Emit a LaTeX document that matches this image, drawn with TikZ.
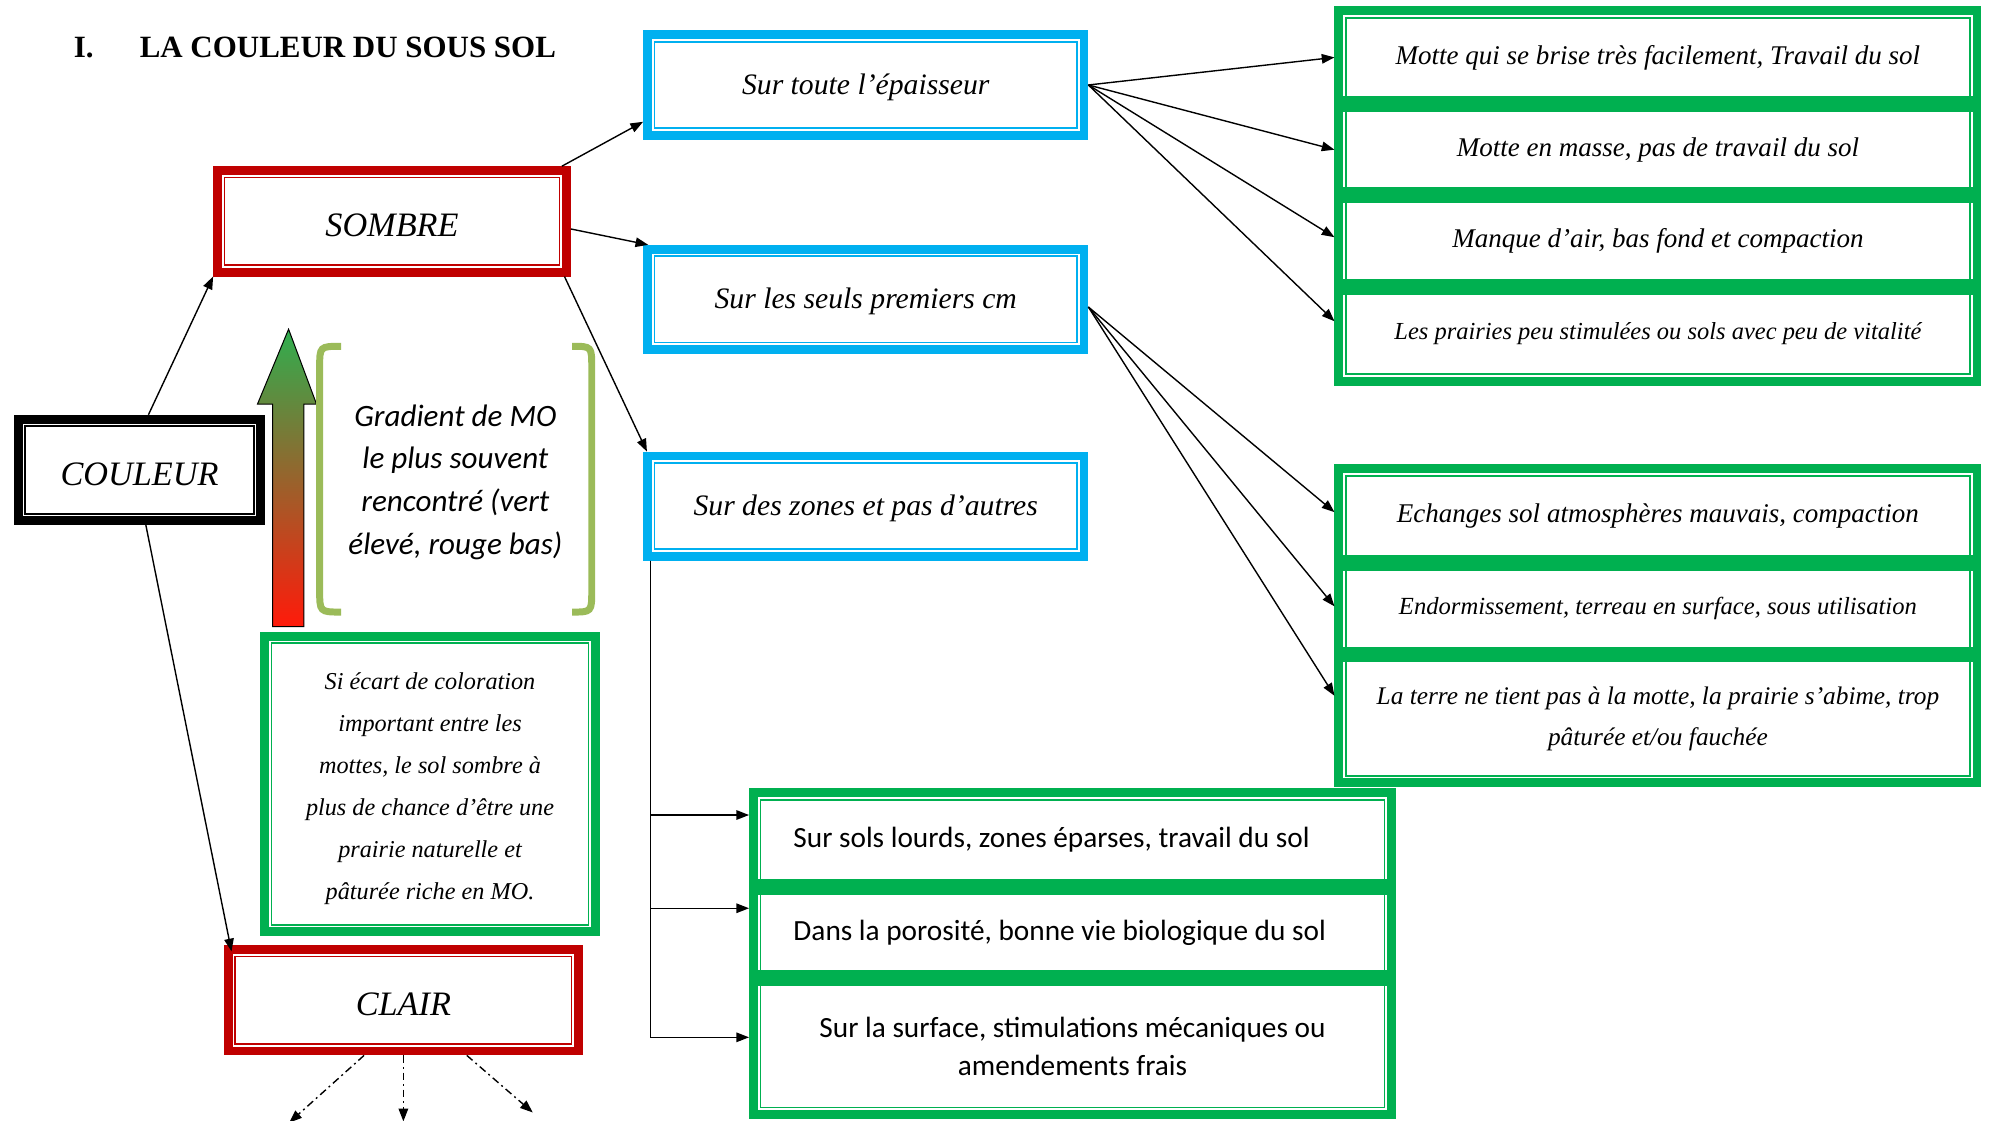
\documentclass[tikz,border=0pt]{standalone}
\usepackage{fontspec}
\setmainfont{Liberation Serif}
\newfontfamily\calibri{Carlito}
\usepackage{tikz}
\usetikzlibrary{arrows.meta,positioning}

\definecolor{bleu}{HTML}{00B0F0}
\definecolor{rouge}{HTML}{C00000}
\definecolor{vert}{HTML}{00B050}
\definecolor{accolade}{HTML}{9BBB59}
\definecolor{haut}{HTML}{2FAE4F}
\definecolor{bas}{HTML}{FF1A0A}

\tikzset{
  cadre/.style={draw=#1, line width=7pt, inner sep=0pt, align=center,
    path picture={\draw[#1, line width=1.4pt]
      ([shift={(5.5pt,-5.5pt)}]path picture bounding box.north west) rectangle
      ([shift={(-5.5pt,5.5pt)}]path picture bounding box.south east);}},
  ligne/.style={cadre=vert, minimum width=503pt, minimum height=#1},
  barre/.style={vert, line width=12.5pt},
  fleche/.style={->, line width=1.1pt},
  tirets/.style={->, line width=1.1pt, dash pattern=on 6pt off 3pt on 1.5pt off 3pt},
  grand/.style={font=\fontsize{27}{32}\selectfont\itshape, text height=24pt, text depth=0pt},
  moyen/.style={font=\fontsize{23.4}{28}\selectfont\itshape, text height=20pt, text depth=5pt},
  texte/.style={font=\fontsize{#1}{32}\selectfont\itshape},
  sans/.style={font=\calibri\fontsize{#1}{30}\selectfont}
}

\begin{document}
\begin{tikzpicture}[x=1pt, y=-1pt, >={Triangle[length=10pt,width=7.5pt]}]
  \useasboundingbox (0,0) rectangle (1568,883);

  \node[anchor=base west, inner sep=0pt, font=\fontsize{24.4}{28}\selectfont\bfseries] (titre) at (58,45)
    {\makebox[52pt][l]{I.}LA COULEUR DU SOUS SOL};

  \node[cadre=black, minimum width=191pt, minimum height=80pt, grand] (couleur) at (110,370.5) {COULEUR};
  \node[cadre=rouge, minimum width=275pt, minimum height=80pt, grand] (sombre) at (309,174.5) {SOMBRE};
  \node[cadre=rouge, minimum width=276pt, minimum height=80pt, grand] (clair) at (318,788.5) {CLAIR};

  \node[cadre=bleu, minimum width=344pt, minimum height=79pt, moyen] (b1) at (682.5,67) {Sur toute l’épaisseur};
  \node[cadre=bleu, minimum width=344pt, minimum height=79pt, moyen] (b2) at (682.5,236) {Sur les seuls premiers cm};
  \node[cadre=bleu, minimum width=344pt, minimum height=79pt, moyen] (b3) at (682.5,399) {Sur des zones et pas d’autres};

  \node[cadre=vert, minimum width=261pt, minimum height=233pt, font=\fontsize{19.1}{33.2}\selectfont\itshape] (note) at (339,618)
    {\rule{0pt}{21pt}Si écart de coloration\\important entre les\\mottes, le sol sombre à\\plus de chance d’être une\\prairie naturelle et\\pâturée riche en MO.};

  \draw[line width=0.8pt, top color=haut, bottom color=bas] (215,494) -- (215,318.5) -- (203,318.5) -- (227.5,259.5)
    -- (249.5,318.5) -- (239.5,318.5) -- (239.5,494) -- cycle;
  \draw[accolade, line width=5.5pt] (269,273) .. controls (252,273) .. (252,290) -- (252,465) .. controls (252,482.5) .. (269,482.5);
  \draw[accolade, line width=5.5pt] (451,273) .. controls (466.5,273) .. (466.5,290) -- (466.5,465) .. controls (466.5,482.5) .. (451,482.5);
  \node[align=center, font=\calibri\itshape\fontsize{24.5}{33.7}\selectfont] (gradient) at (359,380)
    {Gradient de MO\\le plus souvent\\rencontré (vert\\élevé, rouge bas)};

  \node[ligne=73.5pt, texte=21.3] (r1a) at (1307,45.25) {Motte qui se brise très facilement, Travail du sol};
  \node[ligne=72pt, texte=21.3, below=-7pt of r1a] (r1b) {Motte en masse, pas de travail du sol};
  \node[ligne=72pt, texte=21.3, below=-7pt of r1b] (r1c) {Manque d’air, bas fond et compaction};
  \node[ligne=74.5pt, texte=19.3, below=-7pt of r1c] (r1d) {Les prairies peu stimulées ou sols avec peu de vitalité};

  \node[ligne=74.5pt, texte=21.3] (r2a) at (1307,406.75) {Echanges sol atmosphères mauvais, compaction};
  \node[ligne=72pt, texte=19.4, below=-7pt of r2a] (r2b) {Endormissement, terreau en surface, sous utilisation};
  \node[ligne=101pt, texte=20, below=-7pt of r2b] (r2c) {La terre ne tient pas à la motte, la prairie s’abime, trop\\pâturée et/ou fauchée};

  \node[ligne=74pt, sans=23.1, text width=440pt, align=flush left] (r3a) at (845.5,662) {Sur sols lourds, zones éparses, travail du sol};
  \node[ligne=72pt, sans=23.1, text width=440pt, align=flush left, below=-7pt of r3a] (r3b) {Dans la porosité, bonne vie biologique du sol};
  \node[ligne=107.5pt, sans=23.1, below=-7pt of r3b] (r3c) {Sur la surface, stimulations mécaniques ou\\amendements frais};

  \draw[barre] ([yshift=3.5pt]r1a.south west) -- ([yshift=3.5pt]r1a.south east);
  \draw[barre] ([yshift=3.5pt]r1b.south west) -- ([yshift=3.5pt]r1b.south east);
  \draw[barre] ([yshift=3.5pt]r1c.south west) -- ([yshift=3.5pt]r1c.south east);
  \draw[barre] ([yshift=3.5pt]r2a.south west) -- ([yshift=3.5pt]r2a.south east);
  \draw[barre] ([yshift=3.5pt]r2b.south west) -- ([yshift=3.5pt]r2b.south east);
  \draw[barre] ([yshift=3.5pt]r3a.south west) -- ([yshift=3.5pt]r3a.south east);
  \draw[barre] ([yshift=3.5pt]r3b.south west) -- ([yshift=3.5pt]r3b.south east);

  \draw[fleche] ([xshift=7pt]couleur.north) -- (sombre.south west);
  \draw[fleche] ([xshift=5pt]couleur.south) -- ([shift={(6pt,-5pt)}]clair.north west);

  \draw[fleche] ([xshift=-7pt]sombre.north east) -- ([yshift=-29pt]b1.west);
  \draw[fleche] ([yshift=-6pt]sombre.east) -- ([xshift=4pt]b2.north west);
  \draw[fleche] ([xshift=-5pt]sombre.south east) -- ([xshift=3pt]b3.north west);

  \draw[fleche] (b1.east) -- (r1a.west);
  \draw[fleche] (b1.east) -- (r1b.west);
  \draw[fleche] (b1.east) -- ([yshift=3pt]r1c.west);
  \draw[fleche] (b1.east) -- ([yshift=10pt]r1d.west);

  \draw[fleche] ([yshift=-6pt]b2.east) -- ([yshift=3pt]r2a.west);
  \draw[fleche] ([yshift=-6pt]b2.east) -- ([yshift=2pt]r2b.west);
  \draw[fleche] ([yshift=-6pt]b2.east) -- ([yshift=18pt]r2c.west);

  \draw[fleche] ([xshift=6pt]b3.south west) |- ([yshift=19.5pt]r3a.west);
  \draw[fleche] ([xshift=6pt]b3.south west) |- ([yshift=19pt]r3b.west);
  \draw[fleche] ([xshift=6pt]b3.south west) |- ([yshift=7pt]r3c.west);

  \coordinate (c1) at (228,885);
  \coordinate (c2) at (318,884);
  \coordinate (c3) at (420,877);
  \draw[tirets] ([xshift=-31pt]clair.south) -- (c1);
  \draw[tirets] (clair.south) -- (c2);
  \draw[tirets] ([xshift=50pt]clair.south) -- (c3);
\end{tikzpicture}
\end{document}
